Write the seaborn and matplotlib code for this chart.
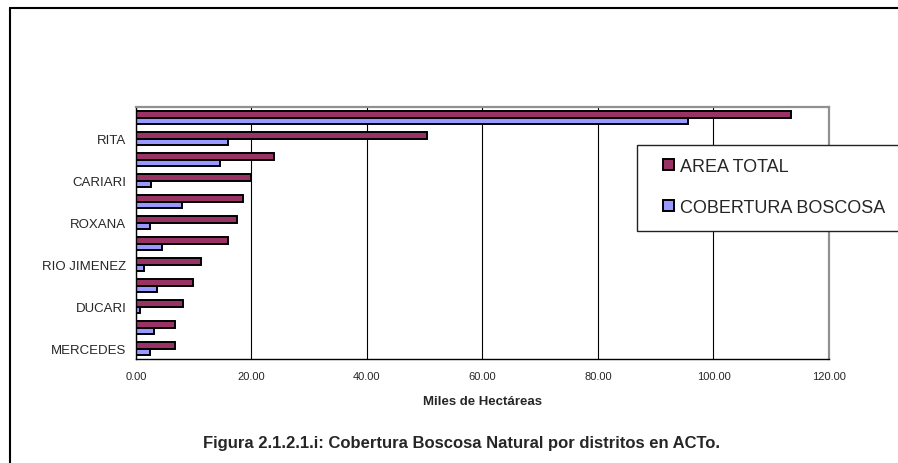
import matplotlib
matplotlib.use("Agg")
import matplotlib.pyplot as plt
from matplotlib.lines import Line2D
from matplotlib.patches import Rectangle
import pandas as pd
import seaborn as sns

# districts, top to bottom (only every other one is labelled in the source)
districts = ["COLORADO", "RITA", "GUAPILES", "CARIARI", "JIMENEZ", "ROXANA",
             "GUACIMO", "RIO JIMENEZ", "POCORA", "DUCARI", "SIQUIRRES", "MERCEDES"]
shown_labels = ["", "RITA", "", "CARIARI", "", "ROXANA",
                "", "RIO JIMENEZ", "", "DUCARI", "", "MERCEDES"]
area_total = [113.4, 50.4, 23.9, 19.9, 18.5, 17.5, 16.0, 11.2, 9.8, 8.1, 6.7, 6.7]
cobertura = [95.5, 15.9, 14.6, 2.6, 7.9, 2.5, 4.5, 1.4, 3.7, 0.7, 3.2, 2.5]
series = ["AREA TOTAL", "COBERTURA BOSCOSA"]
colors = ["#993366", "#9999FF"]
x_ticks = [0, 20, 40, 60, 80, 100, 120]

df = pd.DataFrame({
    "distrito": districts * 2,
    "valor": area_total + cobertura,
    "serie": [series[0]] * len(districts) + [series[1]] * len(districts),
})

sns.set_style("white")
plt.rcParams["font.family"] = ["Liberation Sans", "DejaVu Sans"]

fig = plt.figure(figsize=(8.98, 4.64), dpi=100)
ax = fig.add_axes([136 / 898, 1 - 360 / 464, (829 - 136) / 898, (360 - 108) / 464])

sns.barplot(data=df, y="distrito", x="valor", hue="serie", order=districts,
            hue_order=series, palette=colors, orient="h", width=0.65,
            edgecolor="black", linewidth=1.4, saturation=1, ax=ax, legend=False)

ax.set_xlim(0, 120)
ax.set_xticks(x_ticks)
ax.set_xticklabels([f"{v:.2f}" for v in x_ticks], fontsize=8)
ax.tick_params(axis="x", direction="out", length=4, width=1, color="black", pad=5)
ax.xaxis.grid(True, color="black", linewidth=0.8)
ax.set_axisbelow(True)

ax.set_yticks(range(len(districts)))
ax.set_yticklabels(shown_labels, fontsize=9.5)
ax.tick_params(axis="y", length=0, pad=7)
ax.set_yticks([i - 0.5 for i in range(len(districts) + 1)], minor=True)
ax.tick_params(axis="y", which="minor", direction="out", length=4, width=1, color="black")

ax.set_ylabel("")
ax.set_xlabel("Miles de Hectáreas", fontsize=9.5, fontweight="bold", labelpad=10)

for side in ["top", "right"]:
    ax.spines[side].set_color("#909090")
    ax.spines[side].set_linewidth(1.6)
for side in ["left", "bottom"]:
    ax.spines[side].set_color("black")
    ax.spines[side].set_linewidth(1)

# legend with a box running to the right edge
handles = [Rectangle((0, 0), 1, 1, facecolor=c, edgecolor="black", linewidth=1.4) for c in colors]
fig.legend(handles, series, loc="center left", bbox_to_anchor=(663 / 898, 1 - 188 / 464),
           frameon=False, fontsize=13, handlelength=0.6, handleheight=0.6,
           handletextpad=0.35, labelspacing=1.32, borderpad=0, borderaxespad=0)
fig.add_artist(Rectangle((637 / 898, 1 - 232 / 464), 1.0, (232 - 146) / 464,
                         transform=fig.transFigure, facecolor="white",
                         edgecolor="#222222", linewidth=1, zorder=0.5))

fig.text(462 / 898, 1 - 444 / 464,
         "Figura 2.1.2.1.i: Cobertura Boscosa Natural por distritos en ACTo.",
         ha="center", va="center", fontsize=12, fontweight="bold")

# outer frame (top and left edges visible)
fig.add_artist(Line2D([9.5 / 898, 1], [1 - 8.5 / 464] * 2, transform=fig.transFigure,
                      color="black", linewidth=1.5))
fig.add_artist(Line2D([9.5 / 898] * 2, [0, 1 - 8.5 / 464], transform=fig.transFigure,
                      color="black", linewidth=1.5))

fig.savefig("out.png", dpi=100)
